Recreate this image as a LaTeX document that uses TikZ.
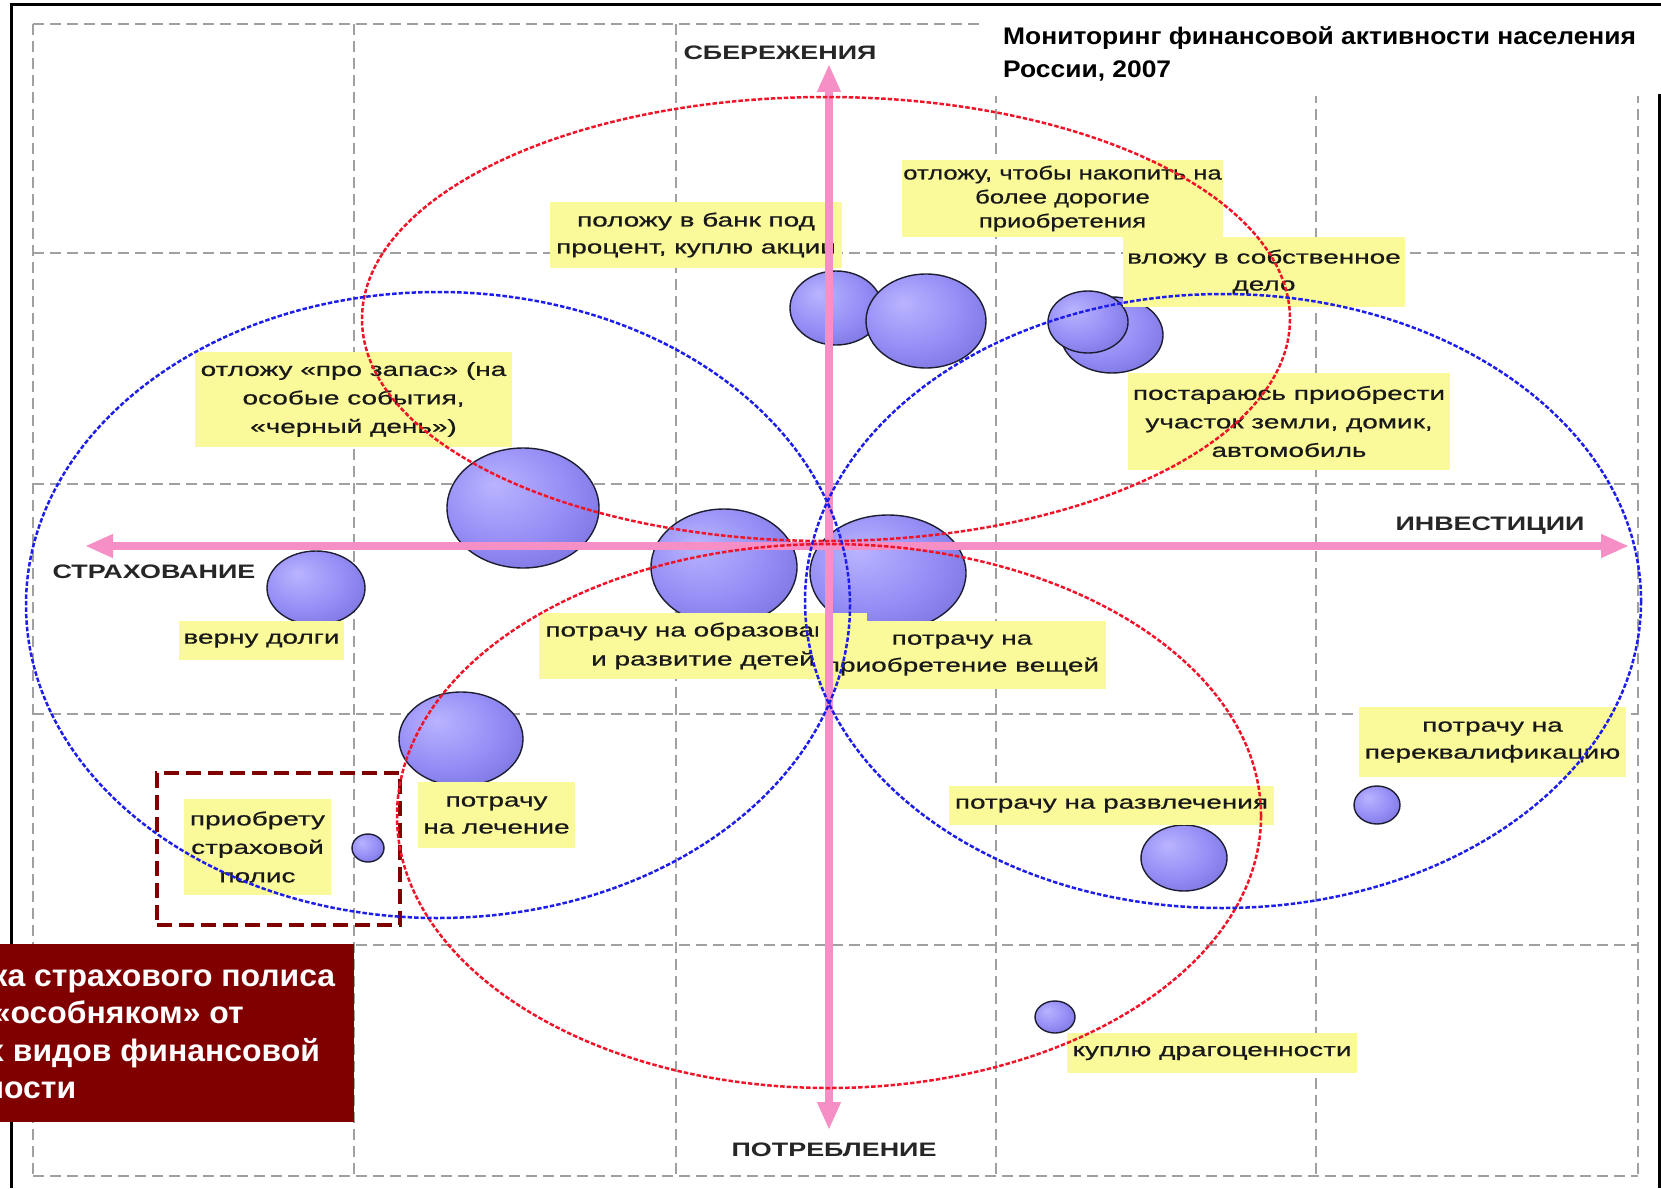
\documentclass[tikz,border=0pt]{standalone}
\usepackage{fontspec}
\setmainfont{Liberation Sans}
\newfontfamily\lblfont[FakeStretch=1.47,FakeBold=0.6]{Liberation Sans}
\newfontfamily\lblfontn[FakeStretch=1.35,FakeBold=0.6]{Liberation Sans}
\newfontfamily\axfont[FakeStretch=1.38]{Liberation Sans}
\newfontfamily\ttlfont[FakeStretch=1.1]{Liberation Sans}
\newfontfamily\msgfont[FakeStretch=1.03]{Liberation Sans}
\usetikzlibrary{arrows.meta,shapes.geometric}
\definecolor{gridgray}{RGB}{160,160,160}
\definecolor{axpink}{RGB}{246,143,198}
\definecolor{lblyellow}{RGB}{250,250,155}
\definecolor{ellred}{RGB}{240,20,40}
\definecolor{ellblue}{RGB}{30,30,235}
\definecolor{boxred}{RGB}{128,0,0}
\definecolor{bubhi}{RGB}{185,180,255}
\definecolor{bubmid}{RGB}{148,140,245}
\definecolor{bubdark}{RGB}{98,92,200}
\definecolor{bubline}{RGB}{30,30,50}
\pgfdeclareradialshading{bubsh}{\pgfpoint{-10bp}{10bp}}{color(0bp)=(bubhi); color(22bp)=(bubmid); color(48bp)=(bubdark); color(60bp)=(bubdark)}
\tikzset{
  gridln/.style={gridgray, line width=2pt, dash pattern=on 11pt off 6pt},
  bubble/.style={ellipse, draw=bubline, line width=1.4pt, shading=bubsh, inner sep=0pt},
  lbl/.style={fill=lblyellow, inner sep=0pt, align=center, text=black!90, font=\lblfont\fontsize{19}{27}\selectfont},
  axlbl/.style={inner sep=0pt, text=black!85, font=\axfont\bfseries\fontsize{19.5}{23}\selectfont},
  axisarrow/.style={axpink, line width=8pt, {Triangle[width=22pt,length=28pt]}-{Triangle[width=22pt,length=28pt]}},
  redell/.style={ellred, line width=2.5pt, dash pattern=on 4.5pt off 2pt},
  blueell/.style={ellblue, line width=2.5pt, dash pattern=on 4.5pt off 2pt},
  polisframe/.style={draw=boxred, line width=4pt, dash pattern=on 15pt off 7pt, inner sep=0pt},
}
\begin{document}
\begin{tikzpicture}[x=1pt,y=-1pt]
\useasboundingbox (0,0) rectangle (1661,1188);
\fill[white] (0,0) rectangle (1661,1188);
% grid
\foreach \gx in {33,354,676,996,1316,1638}{\draw[gridln] (\gx,24) -- (\gx,1176);}
\foreach \gy in {24,253,484,714,945,1176}{\draw[gridln] (33,\gy) -- (1638,\gy);}
% title area
\fill[white] (985,8) rectangle (1661,96);
\draw[line width=3pt] (1661,5) -- (11,5) -- (11,1188);
\draw[line width=3pt] (1659,94) -- (1659,1188);
\node[anchor=base west, inner sep=0pt, font=\ttlfont\bfseries\fontsize{24}{33}\selectfont] (title) at (1003,45)
  {\begin{tabular}[t]{@{}l@{}}Мониторинг финансовой активности населения\\России, 2007\end{tabular}};
% bubbles
\node[bubble, minimum width=92pt, minimum height=74pt] (b1) at (836,308) {};
\node[bubble, minimum width=120pt, minimum height=94pt] (b2) at (926,321) {};
\node[bubble, minimum width=102pt, minimum height=76pt] (b3) at (1112,335) {};
\node[bubble, minimum width=80pt, minimum height=62pt] (b4) at (1088,322) {};
\node[bubble, minimum width=152pt, minimum height=120pt] (b5) at (523,508) {};
\node[bubble, minimum width=98pt, minimum height=74pt] (b6) at (316,588) {};
\node[bubble, minimum width=146pt, minimum height=116pt] (b7) at (724,567) {};
\node[bubble, minimum width=156pt, minimum height=116pt] (b8) at (888,573) {};
\node[bubble, minimum width=124pt, minimum height=94pt] (b9) at (461,739) {};
\node[bubble, minimum width=32pt, minimum height=28pt] (b10) at (368,848) {};
\node[bubble, minimum width=86pt, minimum height=66pt] (b11) at (1184,858) {};
\node[bubble, minimum width=46pt, minimum height=38pt] (b12) at (1377,805) {};
\node[bubble, minimum width=40pt, minimum height=32pt] (b13) at (1055,1017) {};
% labels
\node[lbl, minimum width=292pt, minimum height=66pt] (lbank) at (696,235) {положу в банк под\\процент, куплю акции};
\node[lbl, minimum width=321pt, minimum height=77pt, font=\lblfontn\fontsize{19}{24}\selectfont] (laccum) at (1062.5,198.5) {отложу, чтобы накопить на\\более дорогие\\приобретения};
\node[lbl, minimum width=282pt, minimum height=70pt] (lbiz) at (1264,272) {вложу в собственное\\дело};
\node[lbl, minimum width=317pt, minimum height=95pt, font=\lblfont\fontsize{19}{28.5}\selectfont] (lzapas) at (353.5,399.5) {отложу «про запас» (на\\особые события,\\«черный день»)};
\node[lbl, minimum width=322pt, minimum height=97pt, font=\lblfont\fontsize{19}{28.5}\selectfont] (lland) at (1289,421.5) {постараюсь приобрести\\участок земли, домик,\\автомобиль};
\node[lbl, minimum width=165pt, minimum height=39pt] (ldebt) at (261.5,640.5) {верну долги};
\node[lbl, minimum width=328pt, minimum height=66pt, font=\lblfont\fontsize{19}{29}\selectfont] (ledu) at (703,646) {потрачу на образование\\и развитие детей};
\node[lbl, minimum width=288pt, minimum height=68pt] (lthings) at (962,655) {потрачу на\\приобретение вещей};
\node[lbl, minimum width=157pt, minimum height=66pt] (lmed) at (496.5,815) {потрачу\\на лечение};
\node[lbl, minimum width=147pt, minimum height=96pt, font=\lblfont\fontsize{19}{28.5}\selectfont] (lpolis) at (257.5,847) {приобрету\\страховой\\полис};
\node[lbl, minimum width=325pt, minimum height=39pt] (lfun) at (1111.5,805.5) {потрачу на развлечения};
\node[lbl, minimum width=267pt, minimum height=70pt] (lretrain) at (1492.5,742) {потрачу на\\переквалификацию};
\node[lbl, minimum width=290pt, minimum height=40pt] (ljewel) at (1212,1053) {куплю драгоценности};
% highlighted frame
\node[polisframe, minimum width=243pt, minimum height=152pt] (pframe) at (278.5,849) {};
% axes
\coordinate (axL) at (85,546);
\coordinate (axR) at (1629,546);
\coordinate (axT) at (829,64);
\coordinate (axB) at (829,1130);
\draw[axisarrow] (axL) -- (axR);
\draw[axisarrow] (axT) -- (axB);
% dashed ellipses
\draw[redell] (826,319) ellipse [x radius=464, y radius=222];
\draw[redell] (829,816) ellipse [x radius=432, y radius=272];
\draw[blueell] (438,605) ellipse [x radius=412, y radius=313];
\draw[blueell] (1223,601) ellipse [x radius=418, y radius=307];
% axis labels
\node[axlbl] (lsav) at (780,53) {СБЕРЕЖЕНИЯ};
\node[axlbl] (linv) at (1490,526) {ИНВЕСТИЦИИ};
\node[axlbl] (lins) at (154,572) {СТРАХОВАНИЕ};
\node[axlbl] (lcons) at (834,1150) {ПОТРЕБЛЕНИЕ};
% message box
\node[fill=boxred, inner sep=0pt, minimum width=360pt, minimum height=178pt, anchor=north east] (msgbox) at (354,944) {};
\begin{scope}
\clip (0,0) rectangle (1661,1188);
\node[anchor=base west, inner sep=0pt, text=white, font=\msgfont\bfseries\fontsize{31}{37.5}\selectfont] (msg) at (-104,986)
  {\begin{tabular}[t]{@{}l@{}}Покупка страхового полиса\\стоит «особняком» от\\других видов финансовой\\активности\end{tabular}};
\end{scope}
\end{tikzpicture}
\end{document}
